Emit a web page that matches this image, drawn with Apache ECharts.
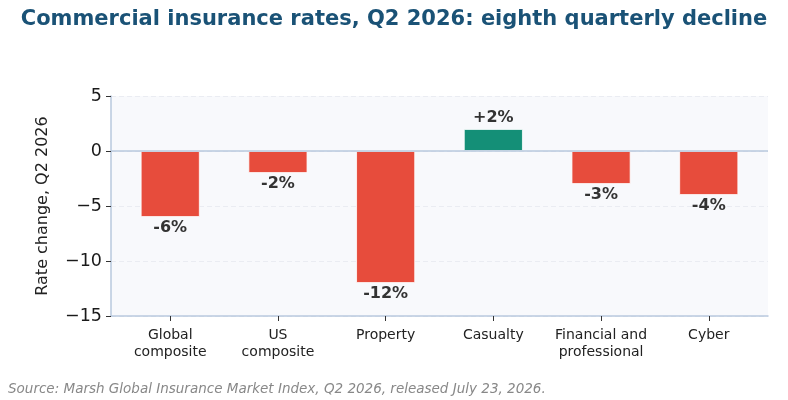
<!DOCTYPE html>
<html><head><meta charset="utf-8">
<script src="https://cdn.jsdelivr.net/npm/echarts@6/dist/echarts.min.js"></script>
<style>html,body{margin:0;padding:0;background:#fff}#c{width:788px;height:400px}</style>
</head><body><div id="c"></div>
<script>
const categories = ["Global\ncomposite", "US\ncomposite", "Property", "Casualty", "Financial and\nprofessional", "Cyber"];
const rateChange = [-6, -2, -12, 2, -3, -4];
const valueLabels = ["-6%", "-2%", "-12%", "+2%", "-3%", "-4%"];
const yTicks = [-15, -10, -5, 0, 5];

const RED = "#e74c3c", GREEN = "#148f77";
const chart = echarts.init(document.getElementById('c'), null, {renderer: 'canvas'});
const font = "DejaVu Sans";
chart.setOption({
  animation: false,
  textStyle: {fontFamily: font},
  title: {
    text: "Commercial insurance rates, Q2 2026: eighth quarterly decline",
    left: 'center', top: 4,
    textStyle: {fontFamily: font, fontWeight: 'bold', fontSize: 21, color: '#1a5276'}
  },
  graphic: [{
    type: 'text', left: 8, top: 382,
    style: {text: "Source: Marsh Global Insurance Market Index, Q2 2026, released July 23, 2026.",
      font: 'italic 13.5px "DejaVu Sans"', fill: '#888888'}
  }],
  grid: {left: 111, right: 20, top: 96, bottom: 84, show: true, backgroundColor: '#f8f9fc', borderWidth: 0},
  xAxis: {
    type: 'value', min: -0.55, max: 5.55,
    axisLine: {show: true, onZero: false, lineStyle: {color: '#b9c9de', width: 1.5}},
    axisTick: {show: true, customValues: [0,1,2,3,4,5], length: 5, lineStyle: {color: '#333'}},
    axisLabel: {customValues: [0,1,2,3,4,5], formatter: v => categories[Math.round(v)] || '',
      fontFamily: font, fontSize: 14, color: '#222', lineHeight: 17, margin: 11},
    splitLine: {show: false}
  },
  yAxis: {
    type: 'value', min: -15, max: 5, interval: 5,
    name: "Rate change, Q2 2026", nameLocation: 'middle', nameGap: 60,
    nameTextStyle: {fontFamily: font, fontSize: 16, color: '#222'},
    axisLine: {show: true, onZero: false, lineStyle: {color: '#b9c9de', width: 1.5}},
    axisTick: {show: true, length: 5, lineStyle: {color: '#333'}},
    axisLabel: {fontFamily: font, fontSize: 17.5, color: '#1a1a1a', margin: 9,
      formatter: v => (v < 0 ? '\u2212' + Math.abs(v) : String(v))},
    splitLine: {show: true, lineStyle: {color: '#e6e9ef', type: [5, 3], width: 0.8}}
  },
  series: [{
    type: 'bar',
    barWidth: 59,
    data: rateChange.map((v, i) => ({
      value: [i, v],
      itemStyle: {color: v >= 0 ? GREEN : RED, borderColor: '#ffffff', borderWidth: 0.8},
      label: {show: true, position: v >= 0 ? 'top' : 'bottom', distance: 3,
        formatter: valueLabels[i], fontFamily: font, fontWeight: 'bold', fontSize: 16, color: '#333'}
    })),
    markLine: {
      silent: true, symbol: 'none', label: {show: false},
      lineStyle: {color: '#b9c9de', type: 'solid', width: 1.5},
      data: [{yAxis: 0}]
    }
  }]
});
</script></body></html>
